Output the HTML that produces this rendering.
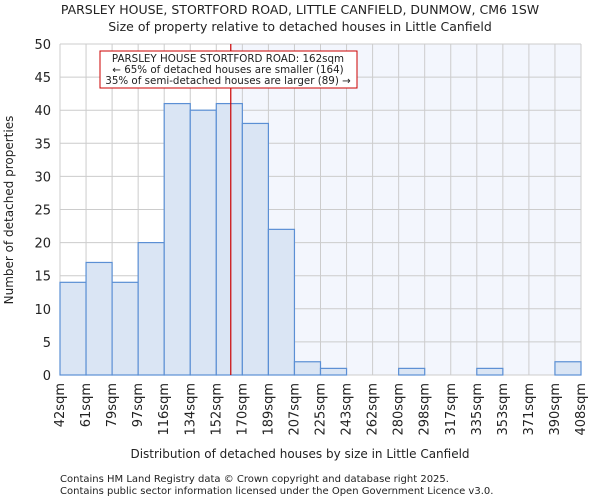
<!DOCTYPE html>
<html><head><meta charset="utf-8"><style>
body{margin:0;background:#fff;font-family:"DejaVu Sans","Liberation Sans",sans-serif}
svg text{font-family:"DejaVu Sans","Liberation Sans",sans-serif;fill:#222}
</style></head><body>
<svg id="c" width="600" height="500">
<text x="300" y="14" font-size="12.5" text-anchor="middle">PARSLEY HOUSE, STORTFORD ROAD, LITTLE CANFIELD, DUNMOW, CM6 1SW</text>
<text x="300" y="31" font-size="12.5" text-anchor="middle">Size of property relative to detached houses in Little Canfield</text>
<g id="plot"></g>
<text x="300" y="458" font-size="12" text-anchor="middle">Distribution of detached houses by size in Little Canfield</text>
<text transform="translate(13,210) rotate(-90)" font-size="12" text-anchor="middle">Number of detached properties</text>
<text x="60" y="482" font-size="10">Contains HM Land Registry data © Crown copyright and database right 2025.</text>
<text x="60" y="494" font-size="10">Contains public sector information licensed under the Open Government Licence v3.0.</text>
</svg>
<script>
const labels=["42sqm","61sqm","79sqm","97sqm","116sqm","134sqm","152sqm","170sqm","189sqm","207sqm","225sqm","243sqm","262sqm","280sqm","298sqm","317sqm","335sqm","353sqm","371sqm","390sqm","408sqm"];
const edges=[42,61,79,97,116,134,152,170,189,207,225,243,262,280,298,317,335,353,371,390,408];
const counts=[14,17,14,20,41,40,41,38,22,2,1,0,0,1,0,0,1,0,0,2];
const yTicks=[0,5,10,15,20,25,30,35,40,45,50];
const marker=162;
const X0=60,X1=581,Y0=375,Y1=44,yMax=50;
const n=counts.length;
const bw=(X1-X0)/n;
const xi=i=>X0+i*bw;
function xv(v){for(let i=0;i<edges.length-1;i++){if(v<=edges[i+1])return xi(i)+(v-edges[i])/(edges[i+1]-edges[i])*bw;}return X1;}
const y=v=>Y0-(v/yMax)*(Y0-Y1);
const g=document.getElementById('plot');
const NS="http://www.w3.org/2000/svg";
function mk(t,a){const e=document.createElementNS(NS,t);for(const k in a)e.setAttribute(k,a[k]);g.appendChild(e);return e;}
const mx=xv(marker);
let e=mk('rect',{x:mx,y:Y1,width:X1-mx,height:Y0-Y1,fill:'#f3f6fd'});


yTicks.forEach(t=>{
 let l=mk('line',{x1:X0,x2:X1,y1:y(t),y2:y(t),stroke:'#cccccc','stroke-width':1});
 
 
 let tx=mk('text',{x:X0-9,y:y(t)+5,'font-size':13,'text-anchor':'end'});tx.textContent=t;
 
 
});
labels.forEach((lb,i)=>{
 let l=mk('line',{x1:xi(i),x2:xi(i),y1:Y1,y2:Y0,stroke:'#cccccc','stroke-width':1});
 
 
 const px=xi(i)+4;
 let tx=mk('text',{transform:`translate(${px},${Y0+8}) rotate(-90)`,'font-size':13,'text-anchor':'end'});tx.textContent=lb;
 
 
});
counts.forEach((c,i)=>{
 if(c<=0)return;
 let r=mk('rect',{x:xi(i),y:y(c),width:bw,height:Y0-y(c),fill:'#dae5f4',stroke:'#5b8fd4','stroke-width':1.2});
 
 
});
let ml=mk('line',{x1:mx,x2:mx,y1:Y1,y2:Y0,stroke:'#cc0000','stroke-width':1.2});


let box=mk('rect',{x:100,y:51,width:257,height:37,fill:'#fff',stroke:'#cc0000','stroke-width':1});


["PARSLEY HOUSE STORTFORD ROAD: 162sqm","← 65% of detached houses are smaller (164)","35% of semi-detached houses are larger (89) →"].forEach((s,k)=>{
 let t=mk('text',{x:228,y:62+k*11,'font-size':10.3,'text-anchor':'middle'});t.textContent=s;
 
 
});
</script>
</body></html>
